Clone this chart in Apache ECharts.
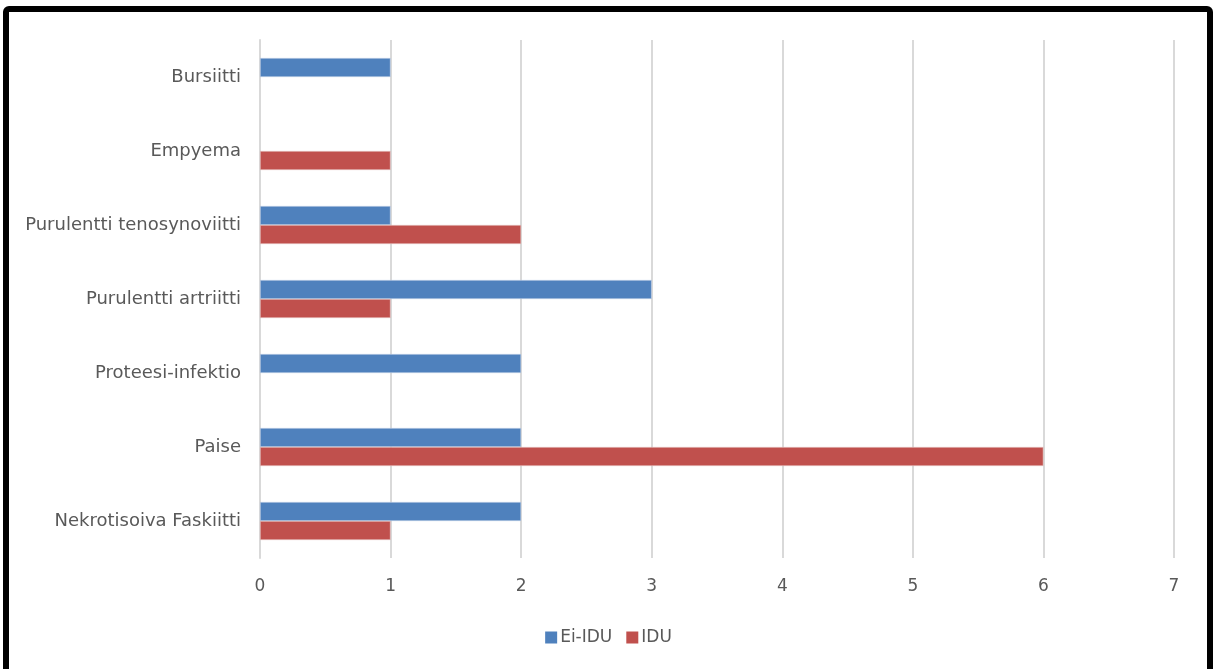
<!DOCTYPE html>
<html>
<head>
<meta charset="utf-8">
<script src="https://cdn.jsdelivr.net/npm/echarts@6/dist/echarts.min.js"></script>
<style>
  html, body { margin: 0; padding: 0; background: #ffffff; }
  #chart { width: 1217px; height: 669px; }
</style>
</head>
<body>
<div id="chart"></div>
<script>
// Infection types, listed top to bottom
const categories = [
  'Bursiitti',
  'Empyema',
  'Purulentti tenosynoviitti',
  'Purulentti artriitti',
  'Proteesi-infektio',
  'Paise',
  'Nekrotisoiva Faskiitti'
];
const seriesNames = ['Ei-IDU', 'IDU'];
const eiIdu = [1, null, 1, 3, 2, 2, 2];
const idu = [null, 1, 2, 1, null, 6, 1];
const xTicks = [0, 1, 2, 3, 4, 5, 6, 7];

const FONT = '"DejaVu Sans", sans-serif';
const TEXT = '#595959';

const chart = echarts.init(document.getElementById('chart'), null, { renderer: 'canvas' });
chart.setOption({
  animation: false,
  backgroundColor: '#ffffff',
  grid: { left: 260, right: 43, top: 40, bottom: 111 },
  legend: {
    data: seriesNames,
    bottom: 18,
    left: 'center',
    itemWidth: 12,
    itemHeight: 12,
    itemGap: 14,
    icon: 'rect',
    itemStyle: { borderWidth: 0 },
    textStyle: { fontFamily: FONT, fontSize: 17, color: TEXT, padding: [0, 0, 0, -2] }
  },
  xAxis: {
    type: 'value',
    min: xTicks[0],
    max: xTicks[xTicks.length - 1],
    interval: 1,
    axisLine: { show: false },
    axisTick: { show: false },
    splitLine: { show: true, lineStyle: { color: '#d9d9d9', width: 2 } },
    axisLabel: { fontFamily: FONT, fontSize: 17, color: TEXT, margin: 20 }
  },
  yAxis: {
    type: 'category',
    data: categories,
    inverse: true,
    axisLine: { show: true, lineStyle: { color: '#d9d9d9', width: 2 } },
    axisTick: { show: false },
    axisLabel: { fontFamily: FONT, fontSize: 18, color: TEXT, margin: 19 }
  },
  series: [
    {
      name: seriesNames[0], type: 'bar', data: eiIdu,
      barWidth: 19, barGap: '0%',
      itemStyle: { color: '#4f81bd', borderColor: '#c6d4e8', borderWidth: 0.6 }
    },
    {
      name: seriesNames[1], type: 'bar', data: idu,
      barWidth: 19, barGap: '0%',
      itemStyle: { color: '#c0504d', borderColor: '#e6c6c5', borderWidth: 0.6 }
    }
  ],
  graphic: [{
    type: 'rect',
    shape: { x: 6, y: 9, width: 1204, height: 700, r: 3 },
    style: { fill: 'none', stroke: '#000000', lineWidth: 6 },
    silent: true
  }]
});
</script>
</body>
</html>
